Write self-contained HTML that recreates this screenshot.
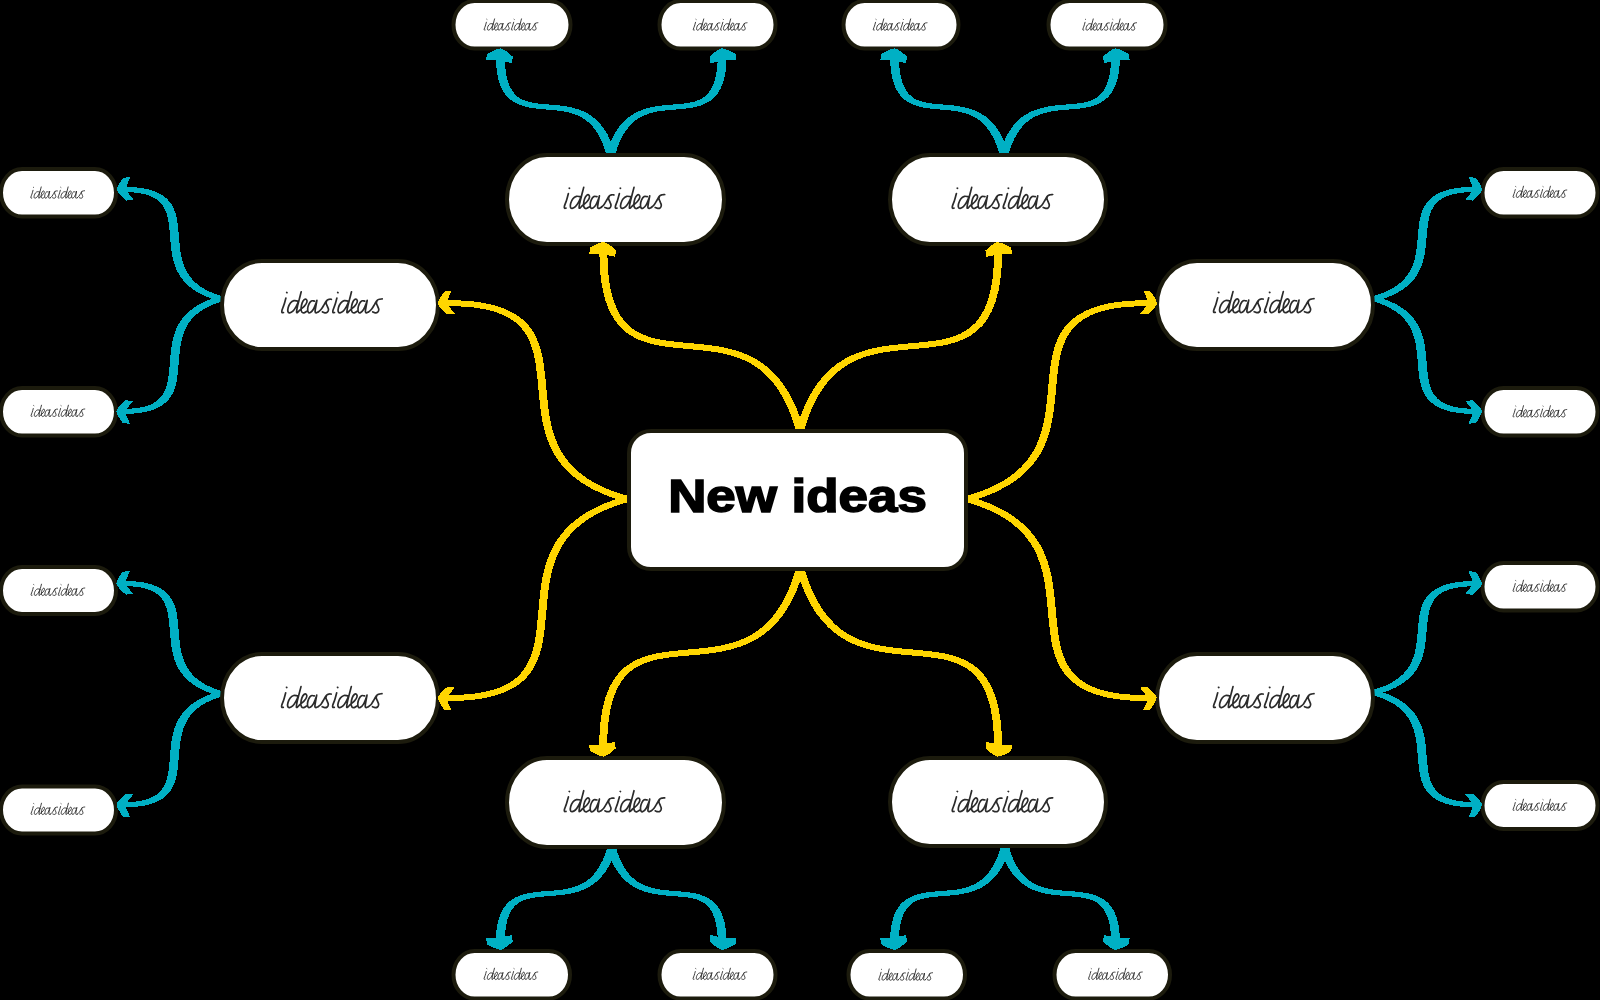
<!DOCTYPE html>
<html><head><meta charset="utf-8"><style>
html,body{margin:0;padding:0;background:#000;width:1600px;height:1000px;overflow:hidden}
svg{display:block}
</style></head><body>
<svg width="1600" height="1000" viewBox="0 0 1600 1000">
<defs>
<symbol id="hw" overflow="visible"><path d="M5.0 -15.1C4.3 -12.7 3.7 -10.1 3.0 -8.0C2.3 -5.9 1.3 -3.8 1.0 -2.5C0.7 -1.2 0.9 -0.8 1.2 -0.5C1.5 -0.2 2.1 -0.6 2.6 -0.6M17.2 -12.0C15.8 -12.1 14.3 -12.7 13.0 -12.4C11.7 -12.1 10.4 -11.2 9.5 -10.0C8.6 -8.8 7.7 -6.9 7.3 -5.5C6.9 -4.1 6.8 -2.5 7.0 -1.6C7.2 -0.7 8.0 -0.2 8.8 -0.3C9.6 -0.4 10.9 -1.0 12.0 -2.0C13.1 -3.0 14.3 -4.9 15.2 -6.5C16.1 -8.1 16.7 -9.8 17.5 -11.5M20.3 -21.3C19.6 -18.7 19.0 -16.2 18.3 -13.5C17.6 -10.8 16.6 -7.1 16.2 -5.0C15.8 -2.9 15.7 -1.8 15.7 -1.0C15.7 -0.2 16.0 -0.5 16.2 -0.5C16.4 -0.5 16.6 -0.7 16.8 -0.8M16.8 -0.8C17.7 -1.7 18.4 -2.5 19.5 -3.5C20.6 -4.5 22.4 -5.8 23.5 -7.0C24.6 -8.2 25.7 -9.9 26.0 -11.0C26.3 -12.1 25.9 -13.2 25.5 -13.6C25.1 -14.0 24.0 -14.0 23.3 -13.4C22.6 -12.8 21.7 -11.4 21.2 -10.0C20.7 -8.6 20.3 -6.5 20.2 -5.0C20.1 -3.5 20.3 -2.0 20.8 -1.2C21.3 -0.4 22.2 -0.1 23.0 -0.2C23.8 -0.3 24.9 -1.3 25.8 -1.8M33.6 -12.0C32.6 -12.1 31.4 -12.7 30.5 -12.2C29.6 -11.7 28.6 -10.3 28.0 -9.0C27.4 -7.7 26.9 -5.9 26.8 -4.5C26.7 -3.1 26.9 -1.5 27.4 -0.8C27.8 -0.2 28.6 -0.1 29.5 -0.6C30.4 -1.1 31.6 -2.3 32.5 -3.8C33.4 -5.3 34.4 -8.0 35.0 -9.5C35.6 -11.0 35.7 -11.7 36.0 -12.8M36.0 -12.8C35.6 -10.5 35.1 -7.9 34.8 -6.0C34.5 -4.1 34.1 -2.5 34.2 -1.5C34.3 -0.5 34.7 -0.3 35.2 -0.3C35.8 -0.2 36.7 -0.9 37.5 -1.2M37.5 -1.2C38.5 -2.1 39.5 -2.7 40.5 -4.0C41.5 -5.3 42.6 -7.5 43.5 -9.0C44.4 -10.5 45.1 -12.0 46.0 -12.8C46.9 -13.6 47.9 -13.7 48.6 -13.9C49.4 -14.1 49.9 -13.8 50.5 -13.8M46.0 -12.8C45.7 -11.9 45.1 -11.1 45.2 -10.0C45.3 -8.9 46.2 -7.6 46.6 -6.5C47.0 -5.4 47.6 -4.4 47.6 -3.5C47.6 -2.6 47.1 -1.4 46.5 -0.9C45.9 -0.4 44.8 -0.2 44.0 -0.3C43.2 -0.3 42.3 -0.9 41.5 -1.2M56.0 -15.1C55.3 -12.7 54.7 -10.1 54.0 -8.0C53.3 -5.9 52.3 -3.8 52.0 -2.5C51.7 -1.2 51.9 -0.8 52.2 -0.5C52.5 -0.2 53.1 -0.6 53.6 -0.6M67.5 -12.0C66.1 -12.1 64.6 -12.7 63.3 -12.4C62.0 -12.1 60.8 -11.2 59.8 -10.0C58.8 -8.8 58.0 -6.9 57.6 -5.5C57.2 -4.1 57.0 -2.5 57.3 -1.6C57.5 -0.7 58.3 -0.2 59.1 -0.3C59.9 -0.4 61.2 -1.0 62.3 -2.0C63.4 -3.0 64.6 -4.9 65.5 -6.5C66.4 -8.1 67.0 -9.8 67.8 -11.5M70.6 -21.3C69.9 -18.7 69.3 -16.2 68.6 -13.5C67.9 -10.8 66.9 -7.1 66.5 -5.0C66.1 -2.9 66.0 -1.8 66.0 -1.0C66.0 -0.2 66.3 -0.5 66.5 -0.5C66.7 -0.5 66.9 -0.7 67.1 -0.8M67.1 -0.8C68.0 -1.7 68.7 -2.5 69.8 -3.5C70.9 -4.5 72.7 -5.8 73.8 -7.0C74.9 -8.2 76.0 -9.9 76.3 -11.0C76.6 -12.1 76.2 -13.2 75.8 -13.6C75.3 -14.0 74.3 -14.0 73.6 -13.4C72.9 -12.8 72.0 -11.4 71.5 -10.0C71.0 -8.6 70.6 -6.5 70.5 -5.0C70.4 -3.5 70.6 -2.0 71.1 -1.2C71.6 -0.4 72.5 -0.1 73.3 -0.2C74.1 -0.3 75.2 -1.3 76.1 -1.8M83.9 -12.0C82.9 -12.1 81.7 -12.7 80.8 -12.2C79.9 -11.7 78.9 -10.3 78.3 -9.0C77.7 -7.7 77.2 -5.9 77.1 -4.5C77.0 -3.1 77.2 -1.5 77.7 -0.8C78.2 -0.2 79.0 -0.1 79.8 -0.6C80.6 -1.1 81.9 -2.3 82.8 -3.8C83.7 -5.3 84.7 -8.0 85.3 -9.5C85.9 -11.0 86.0 -11.7 86.3 -12.8M86.3 -12.8C85.9 -10.5 85.4 -7.9 85.1 -6.0C84.8 -4.1 84.4 -2.5 84.5 -1.5C84.6 -0.5 85.0 -0.3 85.5 -0.3C86.0 -0.2 87.0 -0.9 87.8 -1.2M87.8 -1.2C88.8 -2.1 89.8 -2.7 90.8 -4.0C91.8 -5.3 92.9 -7.5 93.8 -9.0C94.7 -10.5 95.4 -12.0 96.3 -12.8C97.2 -13.6 98.1 -13.7 98.9 -13.9C99.7 -14.1 100.5 -14.1 101.3 -14.2M96.3 -12.8C96.0 -11.9 95.4 -11.1 95.5 -10.0C95.6 -8.9 96.5 -7.6 96.9 -6.5C97.3 -5.4 97.9 -4.4 97.9 -3.5C97.9 -2.6 97.4 -1.4 96.8 -0.9C96.2 -0.4 95.1 -0.2 94.3 -0.3C93.5 -0.3 92.6 -0.9 91.8 -1.2M5.8 -20.6l0.3 0.2M56.8 -20.6l0.3 0.2"/></symbol>
</defs>
<rect width="1600" height="1000" fill="#000"/>
<g shape-rendering="crispEdges" transform="scale(1.33 1)" fill="none" stroke="#FFD600" stroke-width="6" stroke-linecap="round">
<path d="M601.5 431C569.52 271.11 450.01 424.95 453.78 245.97 M601.5 431C633.71 271.28 754.08 424.96 750.28 246.17 M471.8 499C351.27 456.64 467.25 298.33 332.31 303.32 M471.8 499C351.27 542.05 467.25 702.96 332.31 697.88 M726.69 499C847.87 456.64 731.28 298.33 866.94 303.32 M726.69 499C847.61 542.05 731.27 702.96 866.64 697.88 M601.65 567.5C569.61 727.48 449.85 573.55 453.63 752.63 M601.65 567.5C633.83 727.48 754.08 573.55 750.28 752.63"/>
</g>
<g shape-rendering="crispEdges" transform="scale(1.7 1)" fill="none" stroke="#00B0C4" stroke-width="5.2" stroke-linecap="round">
<path d="M359.29 154.6C345.25 64.75 292.78 151.2 294.31 52.37 M359.29 154.6C373.44 64.75 426.3 151.2 424.75 52.37 M590.59 154.6C576.67 64.75 524.68 151.2 526.19 52.37 M590.59 154.6C604.76 64.75 657.71 151.2 656.16 52.37 M359.76 848C345.62 934.12 292.76 851.26 294.31 945.83 M359.76 848C373.81 934.12 426.28 851.26 424.75 945.83 M591.12 848C577.09 934.12 524.66 851.26 526.19 945.83 M591.12 848C605.17 934.12 657.7 851.26 656.16 945.83 M130.15 298.75C78.22 275.15 128.18 186.96 71.1 189.52 M130.15 298.75C77.97 323.06 128.17 413.94 70.81 411.28 M130.15 693.75C77.97 669.93 128.17 580.93 70.81 583.52 M130.15 693.75C78.07 717.72 128.18 807.29 70.92 804.68 M808.09 298.75C861.96 275.15 810.13 186.96 869.43 189.52 M808.09 298.75C861.96 323.06 810.13 413.94 869.43 411.28 M808.09 692.5C861.96 669 810.13 581.17 869.43 583.72 M808.09 692.5C861.96 716.74 810.13 807.33 869.43 804.68"/>
</g>
<g fill="#fff" stroke="#1c1b0d" stroke-width="4">
<rect x="629" y="431" width="337" height="138" rx="22" ry="22"/><rect x="222" y="261" width="216" height="88" rx="40" ry="44"/><rect x="222" y="654" width="216" height="88" rx="40" ry="44"/><rect x="1157" y="261" width="216" height="88" rx="40" ry="44"/><rect x="1157" y="654" width="216" height="88" rx="40" ry="44"/><rect x="507" y="155" width="217" height="89" rx="40" ry="44.5"/><rect x="890" y="155" width="216" height="89" rx="40" ry="44.5"/><rect x="507" y="758" width="217" height="89" rx="40" ry="44.5"/><rect x="890" y="758" width="216" height="88" rx="40" ry="44"/><rect x="453.5" y="1" width="117" height="47.5" rx="21" ry="23.75"/><rect x="659.5" y="1" width="116" height="47.5" rx="21" ry="23.75"/><rect x="843.5" y="1" width="115" height="47.5" rx="21" ry="23.75"/><rect x="1048.5" y="1" width="117" height="47.5" rx="21" ry="23.75"/><rect x="1" y="169" width="115" height="47.5" rx="21" ry="23.75"/><rect x="1" y="388" width="115" height="47.5" rx="21" ry="23.75"/><rect x="1" y="567" width="115" height="47" rx="21" ry="23.5"/><rect x="1" y="786.5" width="115" height="47" rx="21" ry="23.5"/><rect x="1482.5" y="169" width="115" height="47.5" rx="21" ry="23.75"/><rect x="1482.5" y="388" width="115" height="47.5" rx="21" ry="23.75"/><rect x="1482.5" y="563" width="115" height="47.5" rx="21" ry="23.75"/><rect x="1482.5" y="782" width="115" height="47" rx="21" ry="23.5"/><rect x="453.5" y="951" width="116.5" height="47.5" rx="21" ry="23.75"/><rect x="659.5" y="951" width="116" height="47.5" rx="21" ry="23.75"/><rect x="848.5" y="951" width="116.5" height="47.5" rx="21" ry="23.75"/><rect x="1054.5" y="951" width="115.5" height="47.5" rx="21" ry="23.75"/>
</g>
<path shape-rendering="crispEdges" fill="#FFD600" d="M598.73 254.03L589.28 254.03L590.16 247.58L591.57 246.76L592.99 245.99L594.4 245.26L595.8 244.58L597.19 243.95L598.58 243.38L599.95 242.88L601.32 242.46L602.67 242.14L604 242L605.25 242.41L606.48 243L607.7 243.7L608.9 244.48L610.09 245.32L611.28 246.22L612.46 247.18L613.63 248.18L614.8 249.23L615.96 250.32L615.08 256.77L605.91 254.79ZM995.49 254.99L986.32 256.97L985.44 250.52L986.6 249.43L987.77 248.38L988.94 247.38L990.12 246.42L991.31 245.52L992.5 244.68L993.7 243.9L994.92 243.2L996.15 242.61L997.4 242.2L998.73 242.34L1000.08 242.66L1001.45 243.08L1002.82 243.58L1004.21 244.15L1005.6 244.78L1007 245.46L1008.41 246.19L1009.83 246.96L1011.24 247.78L1012.12 254.23L1002.67 254.23ZM448.53 305.9L454.69 313.61L447.4 314.38L446.17 313.36L444.99 312.32L443.85 311.29L442.77 310.24L441.75 309.19L440.8 308.14L439.92 307.07L439.13 306L438.47 304.91L438 303.8L438.16 302.62L438.52 301.43L438.99 300.22L439.56 299L440.2 297.77L440.91 296.54L441.68 295.3L442.51 294.06L443.38 292.8L444.31 291.55L451.6 290.77L447.67 299.55ZM447.67 701.65L451.6 710.43L444.31 709.65L443.38 708.4L442.51 707.14L441.68 705.9L440.91 704.66L440.2 703.43L439.56 702.2L438.99 700.98L438.52 699.77L438.16 698.58L438 697.4L438.47 696.29L439.13 695.2L439.92 694.13L440.8 693.06L441.75 692.01L442.77 690.96L443.85 689.91L444.99 688.88L446.17 687.84L447.4 686.82L454.69 687.59L448.53 695.3ZM1147.33 299.55L1143.4 290.77L1150.69 291.55L1151.62 292.8L1152.49 294.06L1153.32 295.3L1154.09 296.54L1154.8 297.77L1155.44 299L1156.01 300.22L1156.48 301.43L1156.84 302.62L1157 303.8L1156.53 304.91L1155.87 306L1155.08 307.07L1154.2 308.14L1153.25 309.19L1152.23 310.24L1151.15 311.29L1150.01 312.32L1148.83 313.36L1147.6 314.38L1140.31 313.61L1146.47 305.9ZM1146.07 695.3L1139.91 687.59L1147.2 686.82L1148.43 687.84L1149.61 688.88L1150.75 689.91L1151.83 690.96L1152.85 692.01L1153.8 693.06L1154.68 694.13L1155.47 695.2L1156.13 696.29L1156.6 697.4L1156.44 698.58L1156.08 699.77L1155.61 700.98L1155.04 702.2L1154.4 703.43L1153.69 704.66L1152.92 705.9L1152.09 707.14L1151.22 708.4L1150.29 709.65L1143 710.43L1146.93 701.65ZM605.71 743.81L614.88 741.83L615.76 748.28L614.6 749.37L613.43 750.42L612.26 751.42L611.08 752.38L609.89 753.28L608.7 754.12L607.5 754.9L606.28 755.6L605.05 756.19L603.8 756.6L602.47 756.46L601.12 756.14L599.75 755.72L598.38 755.22L596.99 754.65L595.6 754.02L594.2 753.34L592.79 752.61L591.37 751.84L589.96 751.02L589.08 744.57L598.53 744.57ZM1002.67 744.57L1012.12 744.57L1011.24 751.02L1009.83 751.84L1008.41 752.61L1007 753.34L1005.6 754.02L1004.21 754.65L1002.82 755.22L1001.45 755.72L1000.08 756.14L998.73 756.46L997.4 756.6L996.15 756.19L994.92 755.6L993.7 754.9L992.5 754.12L991.31 753.28L990.12 752.38L988.94 751.42L987.77 750.42L986.6 749.37L985.44 748.28L986.32 741.83L995.49 743.81Z"/>
<path shape-rendering="crispEdges" fill="#00B0C4" d="M495.53 60.43L486.08 60.43L486.96 53.98L488.37 53.16L489.79 52.39L491.2 51.66L492.6 50.98L493.99 50.35L495.38 49.78L496.75 49.28L498.12 48.86L499.47 48.54L500.8 48.4L502.05 48.81L503.28 49.4L504.5 50.1L505.7 50.88L506.89 51.72L508.08 52.62L509.26 53.58L510.43 54.58L511.6 55.63L512.76 56.72L511.88 63.17L502.71 61.19ZM719.69 61.19L710.52 63.17L709.64 56.72L710.8 55.63L711.97 54.58L713.14 53.58L714.32 52.62L715.51 51.72L716.7 50.88L717.9 50.1L719.12 49.4L720.35 48.81L721.6 48.4L722.93 48.54L724.28 48.86L725.65 49.28L727.02 49.78L728.41 50.35L729.8 50.98L731.2 51.66L732.61 52.39L734.03 53.16L735.44 53.98L736.32 60.43L726.87 60.43ZM889.73 60.43L880.28 60.43L881.16 53.98L882.57 53.16L883.99 52.39L885.4 51.66L886.8 50.98L888.19 50.35L889.58 49.78L890.95 49.28L892.32 48.86L893.67 48.54L895 48.4L896.25 48.81L897.48 49.4L898.7 50.1L899.9 50.88L901.09 51.72L902.28 52.62L903.46 53.58L904.63 54.58L905.8 55.63L906.96 56.72L906.08 63.17L896.91 61.19ZM1113.09 61.19L1103.92 63.17L1103.04 56.72L1104.2 55.63L1105.37 54.58L1106.54 53.58L1107.72 52.62L1108.91 51.72L1110.1 50.88L1111.3 50.1L1112.52 49.4L1113.75 48.81L1115 48.4L1116.33 48.54L1117.68 48.86L1119.05 49.28L1120.42 49.78L1121.81 50.35L1123.2 50.98L1124.6 51.66L1126.01 52.39L1127.43 53.16L1128.84 53.98L1129.72 60.43L1120.27 60.43ZM502.71 937.01L511.88 935.03L512.76 941.48L511.6 942.57L510.43 943.62L509.26 944.62L508.08 945.58L506.89 946.48L505.7 947.32L504.5 948.1L503.28 948.8L502.05 949.39L500.8 949.8L499.47 949.66L498.12 949.34L496.75 948.92L495.38 948.42L493.99 947.85L492.6 947.22L491.2 946.54L489.79 945.81L488.37 945.04L486.96 944.22L486.08 937.77L495.53 937.77ZM726.87 937.77L736.32 937.77L735.44 944.22L734.03 945.04L732.61 945.81L731.2 946.54L729.8 947.22L728.41 947.85L727.02 948.42L725.65 948.92L724.28 949.34L722.93 949.66L721.6 949.8L720.35 949.39L719.12 948.8L717.9 948.1L716.7 947.32L715.51 946.48L714.32 945.58L713.14 944.62L711.97 943.62L710.8 942.57L709.64 941.48L710.52 935.03L719.69 937.01ZM896.91 937.01L906.08 935.03L906.96 941.48L905.8 942.57L904.63 943.62L903.46 944.62L902.28 945.58L901.09 946.48L899.9 947.32L898.7 948.1L897.48 948.8L896.25 949.39L895 949.8L893.67 949.66L892.32 949.34L890.95 948.92L889.58 948.42L888.19 947.85L886.8 947.22L885.4 946.54L883.99 945.81L882.57 945.04L881.16 944.22L880.28 937.77L889.73 937.77ZM1120.27 937.77L1129.72 937.77L1128.84 944.22L1127.43 945.04L1126.01 945.81L1124.6 946.54L1123.2 947.22L1121.81 947.85L1120.42 948.42L1119.05 948.92L1117.68 949.34L1116.33 949.66L1115 949.8L1113.75 949.39L1112.52 948.8L1111.3 948.1L1110.1 947.32L1108.91 946.48L1107.72 945.58L1106.54 944.62L1105.37 943.62L1104.2 942.57L1103.04 941.48L1103.92 935.03L1113.09 937.01ZM127.43 192.1L133.59 199.81L126.3 200.58L125.07 199.56L123.89 198.52L122.75 197.49L121.67 196.44L120.65 195.39L119.7 194.34L118.82 193.27L118.03 192.2L117.37 191.11L116.9 190L117.06 188.82L117.42 187.63L117.89 186.42L118.46 185.2L119.1 183.97L119.81 182.74L120.58 181.5L121.41 180.26L122.28 179L123.21 177.75L130.5 176.97L126.57 185.75ZM126.07 415.05L130 423.83L122.71 423.05L121.78 421.8L120.91 420.54L120.08 419.3L119.31 418.06L118.6 416.83L117.96 415.6L117.39 414.38L116.92 413.17L116.56 411.98L116.4 410.8L116.87 409.69L117.53 408.6L118.32 407.53L119.2 406.46L120.15 405.41L121.17 404.36L122.25 403.31L123.39 402.28L124.57 401.24L125.8 400.22L133.09 400.99L126.93 408.7ZM126.93 586.1L133.09 593.81L125.8 594.58L124.57 593.56L123.39 592.52L122.25 591.49L121.17 590.44L120.15 589.39L119.2 588.34L118.32 587.27L117.53 586.2L116.87 585.11L116.4 584L116.56 582.82L116.92 581.63L117.39 580.42L117.96 579.2L118.6 577.97L119.31 576.74L120.08 575.5L120.91 574.26L121.78 573L122.71 571.75L130 570.97L126.07 579.75ZM126.27 808.45L130.2 817.23L122.91 816.45L121.98 815.2L121.11 813.94L120.28 812.7L119.51 811.46L118.8 810.23L118.16 809L117.59 807.78L117.12 806.57L116.76 805.38L116.6 804.2L117.07 803.09L117.73 802L118.52 800.93L119.4 799.86L120.35 798.81L121.37 797.76L122.45 796.71L123.59 795.68L124.77 794.64L126 793.62L133.29 794.39L127.13 802.1ZM1472.33 185.75L1468.4 176.97L1475.69 177.75L1476.62 179L1477.49 180.26L1478.32 181.5L1479.09 182.74L1479.8 183.97L1480.44 185.2L1481.01 186.42L1481.48 187.63L1481.84 188.82L1482 190L1481.53 191.11L1480.87 192.2L1480.08 193.27L1479.2 194.34L1478.25 195.39L1477.23 196.44L1476.15 197.49L1475.01 198.52L1473.83 199.56L1472.6 200.58L1465.31 199.81L1471.47 192.1ZM1471.47 408.7L1465.31 400.99L1472.6 400.22L1473.83 401.24L1475.01 402.28L1476.15 403.31L1477.23 404.36L1478.25 405.41L1479.2 406.46L1480.08 407.53L1480.87 408.6L1481.53 409.69L1482 410.8L1481.84 411.98L1481.48 413.17L1481.01 414.38L1480.44 415.6L1479.8 416.83L1479.09 418.06L1478.32 419.3L1477.49 420.54L1476.62 421.8L1475.69 423.05L1468.4 423.83L1472.33 415.05ZM1472.33 579.95L1468.4 571.17L1475.69 571.95L1476.62 573.2L1477.49 574.46L1478.32 575.7L1479.09 576.94L1479.8 578.17L1480.44 579.4L1481.01 580.62L1481.48 581.83L1481.84 583.02L1482 584.2L1481.53 585.31L1480.87 586.4L1480.08 587.47L1479.2 588.54L1478.25 589.59L1477.23 590.64L1476.15 591.69L1475.01 592.72L1473.83 593.76L1472.6 594.78L1465.31 594.01L1471.47 586.3ZM1471.47 802.1L1465.31 794.39L1472.6 793.62L1473.83 794.64L1475.01 795.68L1476.15 796.71L1477.23 797.76L1478.25 798.81L1479.2 799.86L1480.08 800.93L1480.87 802L1481.53 803.09L1482 804.2L1481.84 805.38L1481.48 806.57L1481.01 807.78L1480.44 809L1479.8 810.23L1479.09 811.46L1478.32 812.7L1477.49 813.94L1476.62 815.2L1475.69 816.45L1468.4 817.23L1472.33 808.45Z"/>
<text x="797.5" y="512" font-family="Liberation Sans, sans-serif" font-weight="bold" font-size="46" text-anchor="middle" fill="#000" stroke="#000" stroke-width="1.6" transform="translate(797.5 0) scale(1.15 1) translate(-797.5 0)">New ideas</text>
<g fill="none" stroke="#2b2b2b" stroke-width="1.7" stroke-linecap="round" stroke-linejoin="round">
<use href="#hw" transform="translate(563.4 208.7)"/><use href="#hw" transform="translate(951.4 208.7)"/><use href="#hw" transform="translate(563.4 812)"/><use href="#hw" transform="translate(951.4 812)"/><use href="#hw" transform="translate(280.9 313.1)"/><use href="#hw" transform="translate(1212.7 312.9)"/><use href="#hw" transform="translate(280.7 707.9)"/><use href="#hw" transform="translate(1212.7 707.9)"/><use href="#hw" transform="translate(483.7 30.3) scale(0.535)"/><use href="#hw" transform="translate(692.85 30.35) scale(0.535)"/><use href="#hw" transform="translate(872.85 30.35) scale(0.535)"/><use href="#hw" transform="translate(1082.35 30.35) scale(0.535)"/><use href="#hw" transform="translate(30.35 198.35) scale(0.535)"/><use href="#hw" transform="translate(30.6 416.6) scale(0.535)"/><use href="#hw" transform="translate(30.6 595.6) scale(0.535)"/><use href="#hw" transform="translate(30.6 814.6) scale(0.535)"/><use href="#hw" transform="translate(1512.6 197.6) scale(0.535)"/><use href="#hw" transform="translate(1512.6 417.1) scale(0.535)"/><use href="#hw" transform="translate(1512.6 591.6) scale(0.535)"/><use href="#hw" transform="translate(1512.6 810.6) scale(0.535)"/><use href="#hw" transform="translate(483.6 979.6) scale(0.535)"/><use href="#hw" transform="translate(692.6 979.6) scale(0.535)"/><use href="#hw" transform="translate(878.35 980.35) scale(0.535)"/><use href="#hw" transform="translate(1088.1 979.6) scale(0.535)"/>
</g>
</svg>
</body></html>
